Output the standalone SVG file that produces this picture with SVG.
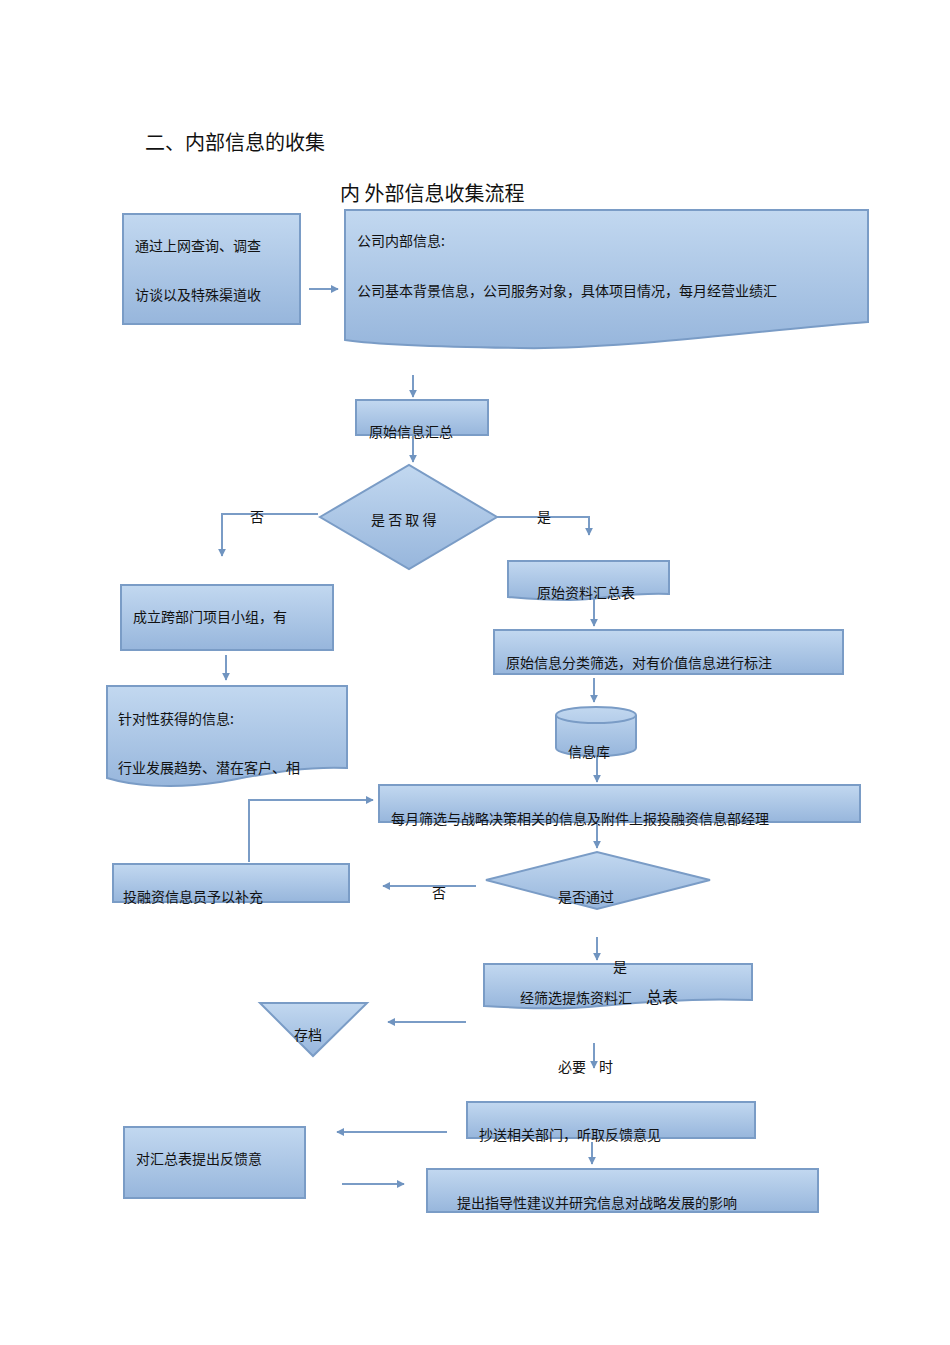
<svg xmlns="http://www.w3.org/2000/svg" width="950" height="1345" viewBox="0 0 950 1345">
<defs>
<linearGradient id="g" x1="0" y1="0" x2="0" y2="1"><stop offset="0" stop-color="#c2d8f0"/><stop offset="1" stop-color="#97b6dc"/></linearGradient>
<marker id="a" viewBox="0 0 10 10" refX="9" refY="5" markerWidth="4" markerHeight="4" orient="auto"><path d="M0,0L10,5L0,10z" fill="#7094c0"/></marker>
<style>
.n{fill:url(#g);stroke:#7a9cc6;stroke-width:2}
.c{fill:none;stroke:#7a9cc6;stroke-width:2;marker-end:url(#a)}
.l{fill:none;stroke:#7a9cc6;stroke-width:2}
text{font-family:"Noto Sans CJK SC","Liberation Serif",serif;font-size:14px;fill:#111}
</style>
</defs>
<text x="145" y="150" style="font-size:20px">二、内部信息的收集</text>
<text x="340" y="201" style="font-size:20px">内 外部信息收集流程</text>
<g id="n1"><rect class="n" x="123" y="214" width="177" height="110"/><text x="135" y="251">通过上网查询、调查</text><text x="135" y="300">访谈以及特殊渠道收</text></g>
<g id="n2"><path class="n" d="M345,210H868V322C760,330 620,350 520,348C440,347 380,345 345,340Z"/><text x="357" y="246">公司内部信息:</text><text x="357" y="296">公司基本背景信息，公司服务对象，具体项目情况，每月经营业绩汇</text></g>
<g id="n3"><rect class="n" x="356" y="400" width="132" height="35"/><text x="369" y="437">原始信息汇总</text></g>
<g id="n4"><path class="n" d="M320,517L409,465L497,517L409,569Z"/><text x="371" y="525">是 否 取 得</text></g>
<g id="n5"><path class="n" d="M508,561H669V594C630,592 600,600 570,600C540,600 520,598 508,597Z"/><text x="537" y="598">原始资料汇总表</text></g>
<g id="n6"><rect class="n" x="494" y="630" width="349" height="44"/><text x="506" y="668">原始信息分类筛选，对有价值信息进行标注</text></g>
<g id="n7"><path class="n" d="M556,715V748A40,8 0 0 0 636,748V715A40,8 0 0 0 556,715Z"/><path class="l" d="M556,715A40,8 0 0 0 636,715"/><text x="568" y="757">信息库</text></g>
<g id="n8"><rect class="n" x="379" y="785" width="481" height="37"/><text x="391" y="824">每月筛选与战略决策相关的信息及附件上报投融资信息部经理</text></g>
<g id="n9"><path class="n" d="M486,880L597,852L710,880L597,909Z"/><text x="558" y="902">是否通过</text></g>
<g id="n10"><rect class="n" x="113" y="864" width="236" height="38"/><text x="123" y="902">投融资信息员予以补充</text></g>
<g id="n11"><rect class="n" x="121" y="585" width="212" height="65"/><text x="133" y="622">成立跨部门项目小组，有</text></g>
<g id="n12"><path class="n" d="M107,686H347V768C300,766 260,775 220,782C170,790 130,785 107,778Z"/><text x="118" y="724">针对性获得的信息:</text><text x="118" y="773">行业发展趋势、潜在客户、相</text></g>
<g id="n13"><path class="n" d="M484,964H752V1000C700,998 640,1002 600,1006C560,1010 520,1008 484,1006Z"/><text x="520" y="1003">经筛选提炼资料汇　<tspan style="font-size:16px">总表</tspan></text></g>
<g id="n14"><path class="n" d="M260,1003H367L313,1056Z"/><text x="294" y="1040">存档</text></g>
<g id="n15"><rect class="n" x="467" y="1102" width="288" height="36"/><text x="479" y="1140">抄送相关部门，听取反馈意见</text></g>
<g id="n16"><rect class="n" x="124" y="1127" width="181" height="71"/><text x="136" y="1164">对汇总表提出反馈意</text></g>
<g id="n17"><rect class="n" x="427" y="1169" width="391" height="43"/><text x="457" y="1208">提出指导性建议并研究信息对战略发展的影响</text></g>
<g id="connectors">
<path class="c" d="M309,289H338"/>
<path class="c" d="M413,375V397"/>
<path class="c" d="M413,435V462"/>
<path class="c" d="M318,514H222V556"/>
<path class="c" d="M497,517H589V535"/>
<path class="c" d="M594,598V626"/>
<path class="c" d="M594,678V702"/>
<path class="c" d="M597,757V782"/>
<path class="c" d="M597,824V848"/>
<path class="c" d="M476,886H383"/>
<path class="c" d="M249,862V800H373"/>
<path class="c" d="M226,655V680"/>
<path class="c" d="M597,937V960"/>
<path class="c" d="M466,1022H388"/>
<path class="c" d="M594,1043V1068"/>
<path class="c" d="M447,1132H337"/>
<path class="c" d="M592,1142V1164"/>
<path class="c" d="M342,1184H404"/>
</g>
<text x="250" y="522">否</text>
<text x="537" y="522">是</text>
<text x="432" y="898">否</text>
<text x="613" y="972">是</text>
<text x="558" y="1072">必要</text>
<text x="599" y="1072">时</text>
</svg>
